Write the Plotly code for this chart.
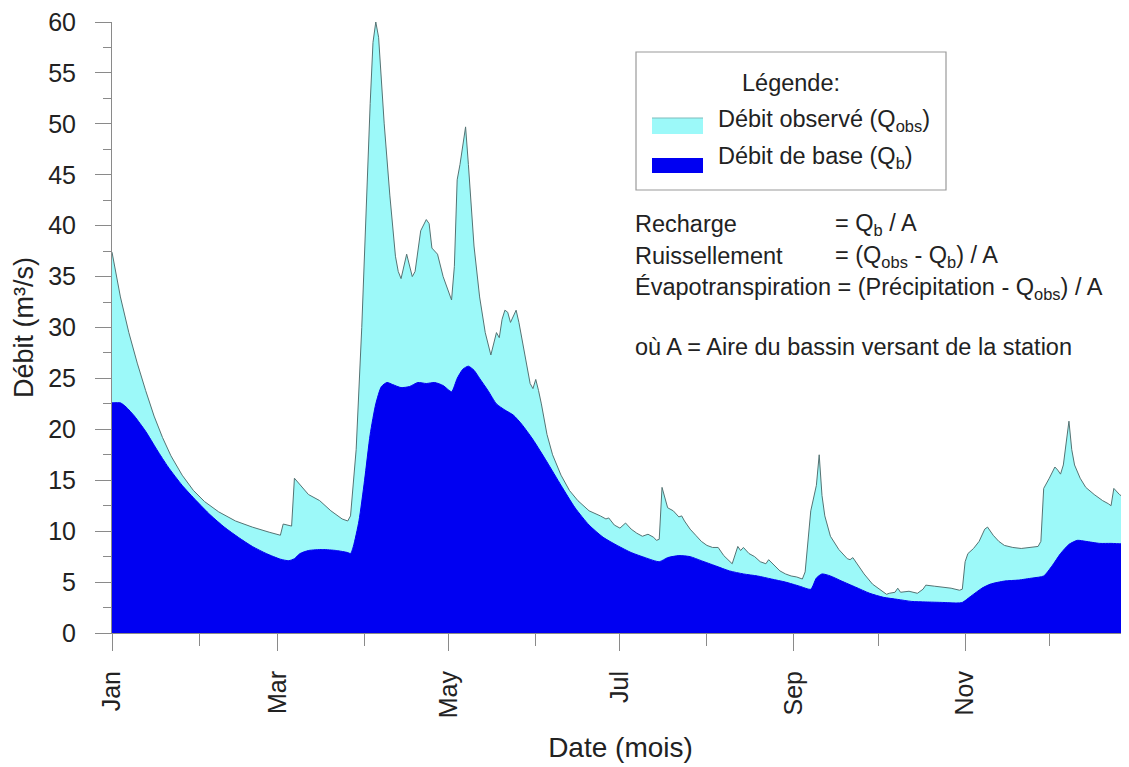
import plotly.graph_objects as go
import pandas as pd

# ---------------- data (day of year, flow m3/s) ----------------
year_start = "2001-01-01"

obs_days = [0, 3, 6, 9, 12, 15, 18, 21, 25, 29, 33, 38, 44, 50, 56, 60,
            61, 63, 64, 65, 67, 70, 74, 78, 82, 84, 85, 87, 89, 91, 92, 93, 94,
            95, 97, 99, 101, 102, 103, 105, 106, 107, 108, 110, 112, 113, 114,
            116, 118, 120, 121, 122, 123, 124, 125, 126, 127, 128, 129, 131,
            133, 135, 137, 138, 139, 140, 141, 142, 143, 144, 145, 147, 149,
            150, 151, 152, 153, 155, 157, 160, 163, 166, 170, 174, 176, 177,
            179, 181, 183, 185, 187, 189, 191, 193, 194, 195, 196, 198, 200,
            202, 203, 204, 206, 208, 210, 212, 214, 216, 218, 221, 223, 224,
            225, 227, 229, 231, 233, 234, 236, 238, 240, 242, 244, 246, 247,
            248, 249, 251, 252, 253, 254, 256, 259, 262, 263, 264, 266, 268,
            271, 274, 276, 277, 279, 280, 281, 284, 287, 289, 290, 293, 296,
            299, 302, 303, 304, 305, 307, 309, 311, 312, 314, 316, 318, 321,
            324, 327, 330, 331, 332, 334, 336, 337, 338, 339, 340, 341, 342,
            343, 345, 347, 350, 353, 355, 356, 357, 359, 361, 364]
obs_flow = [37.4, 33.0, 29.5, 26.5, 23.8, 21.3, 19.2, 17.4, 15.5, 14.0, 12.9, 11.9, 11.0, 10.4, 9.9, 9.6,
            10.7, 10.6, 10.5, 15.2, 14.6, 13.6, 13.0, 12.0, 11.2, 11.0, 11.5, 18.0, 30.0, 45.0, 52.0, 58.0, 60.0,
            58.5, 50.0, 43.0, 37.0, 35.5, 34.8, 37.2, 36.0, 35.0, 35.5, 39.5, 40.6, 40.2, 37.8,
            37.2, 35.0, 33.5, 32.7, 36.0, 44.5, 46.0, 48.0, 49.7, 46.0, 42.0, 38.0, 33.0,
            29.5, 27.3, 29.5, 29.0, 30.8, 31.7, 31.5, 30.5, 31.2, 31.7, 30.5, 27.5, 24.5,
            24.0, 24.9, 23.8, 22.5, 19.5, 17.5, 15.5, 14.0, 13.0, 12.0, 11.5, 11.2, 11.3,
            10.6, 10.3, 10.8, 10.2, 9.8, 9.5, 9.7, 9.4, 9.1, 9.2, 14.3, 12.3, 12.0,
            11.4, 11.5, 11.0, 10.2, 9.6, 9.0, 8.6, 8.4, 8.4, 7.6, 6.8, 8.5, 8.1,
            8.4, 7.8, 7.5, 7.0, 6.8, 7.2, 6.6, 6.1, 5.8, 5.6, 5.5, 5.3, 6.0,
            9.0, 12.0, 14.5, 17.5, 13.5, 11.5, 9.5, 8.2, 7.3, 7.2, 7.4, 6.6, 5.8,
            4.8, 4.2, 3.8, 3.9, 4.0, 4.4, 4.0, 4.1, 3.9, 4.3, 4.7, 4.6, 4.5,
            4.4, 4.2, 4.3, 7.0, 7.8, 8.3, 9.0, 10.2, 10.4, 9.6, 9.0, 8.6, 8.4,
            8.3, 8.4, 8.5, 9.0, 14.2, 15.2, 16.3, 16.0, 15.6, 16.5, 18.5, 20.8, 18.0,
            16.5, 15.2, 14.3, 13.6, 13.0, 12.7, 12.5, 14.2, 13.6, 13.2, 12.7]

base_days = [0, 3, 5, 8, 12, 16, 20, 25, 30, 35, 40, 45, 50, 55, 60, 63, 65, 67,
             70, 75, 80, 84, 85, 86, 88, 90, 92, 94, 96, 98, 100, 103, 106, 109,
             112, 115, 118, 121, 123, 125, 127, 129, 131, 134, 137, 140, 143, 146,
             150, 155, 160, 165, 170, 175, 180, 185, 190, 195, 198, 202, 206, 210,
             215, 220, 225, 230, 235, 240, 245, 249, 251, 253, 256, 260, 265, 270,
             275, 280, 285, 290, 296, 301, 303, 306, 310, 313, 318, 323, 328, 332,
             335, 338, 341, 344, 347, 352, 356, 360, 364]
base_flow = [22.6, 22.6, 22.2, 21.3, 19.8, 18.0, 16.3, 14.5, 13.0, 11.6, 10.4, 9.4, 8.5, 7.8, 7.25, 7.1, 7.3, 7.8,
             8.1, 8.2, 8.1, 7.9, 7.8, 8.5, 11.0, 15.0, 19.5, 22.5, 24.2, 24.6, 24.4, 24.1, 24.2, 24.6,
             24.5, 24.6, 24.3, 23.7, 25.0, 25.9, 26.2, 25.8, 25.0, 23.8, 22.5, 21.9, 21.4, 20.5,
             19.0, 16.8, 14.5, 12.3, 10.6, 9.4, 8.6, 7.9, 7.4, 7.0, 7.4, 7.6, 7.5, 7.1,
             6.6, 6.1, 5.8, 5.6, 5.3, 5.0, 4.6, 4.3, 5.4, 5.8, 5.6, 5.1, 4.5, 3.9,
             3.5, 3.3, 3.1, 3.05, 3.0, 2.95, 3.0, 3.6, 4.4, 4.8, 5.1, 5.2, 5.4, 5.6,
             6.6, 7.8, 8.7, 9.1, 9.0, 8.8, 8.8, 8.75, 8.7]

y_tick_values = [0, 5, 10, 15, 20, 25, 30, 35, 40, 45, 50, 55, 60]
month_ticks_format = "%b"

# ---------------- build ----------------
t0 = pd.Timestamp(year_start)
obs_x = [t0 + pd.Timedelta(days=d) for d in obs_days]
base_x = [t0 + pd.Timedelta(days=d) for d in base_days]

OBS_FILL = "#9CF9F9"
BASE_FILL = "#0000F2"
TXT = "#222222"
FONT = "Arial, Liberation Sans, sans-serif"
AXC = "#8a8a8a"

fig = go.Figure()
fig.add_trace(go.Scatter(x=obs_x, y=obs_flow, mode="lines", fill="tozeroy",
                         fillcolor=OBS_FILL, line=dict(color="#557373", width=1),
                         name="Débit observé", showlegend=False))
fig.add_trace(go.Scatter(x=base_x, y=base_flow, mode="lines", fill="tozeroy",
                         fillcolor=BASE_FILL, line=dict(color=BASE_FILL, width=1, shape="spline", smoothing=0.6),
                         name="Débit de base", showlegend=False))

# page body has an 8px margin: the figure is placed at (8, 8) in the window
OFF = 8
W, H = 1121, 759
PL, PR, PT, PB = 112, 1129, 22, 633  # plot area in window pixels
L, T = PL - OFF, PT - OFF
R = W - (PR - OFF)
B = H - (PB - OFF)


def PX(x):
    return (x - PL) / (PR - PL)


def PY(y):
    return (PB - y) / (PB - PT)


fs = 23.5
shapes = [
    dict(type="rect", xref="paper", yref="paper", x0=PX(636), x1=PX(946), y0=PY(190), y1=PY(52),
         line=dict(color="#9a9a9a", width=1.2), fillcolor="white"),
    dict(type="rect", xref="paper", yref="paper", x0=PX(652), x1=PX(703), y0=PY(134), y1=PY(118),
         line=dict(width=0), fillcolor=OBS_FILL),
    dict(type="line", xref="paper", yref="paper", x0=PX(652), x1=PX(703), y0=PY(118), y1=PY(118),
         line=dict(color="#7fbcbc", width=1)),
    dict(type="rect", xref="paper", yref="paper", x0=PX(652), x1=PX(703), y0=PY(173), y1=PY(158),
         line=dict(width=0), fillcolor=BASE_FILL),
]


def ann(x, y, text, anchor="left"):
    return dict(xref="paper", yref="paper", x=PX(x), y=PY(y), text=text, showarrow=False,
                xanchor=anchor, yanchor="middle", font=dict(family=FONT, size=fs, color=TXT))


annotations = [
    ann(740, 83, "Légende:"),
    ann(716, 120, "Débit observé (Q<sub>obs</sub>)"),
    ann(716, 157, "Débit de base (Q<sub>b</sub>)"),
    ann(633, 224, "Recharge"),
    ann(833, 224, "= Q<sub>b</sub> / A"),
    ann(633, 256, "Ruissellement"),
    ann(833, 256, "= (Q<sub>obs</sub> - Q<sub>b</sub>) / A"),
    ann(633, 289, "Évapotranspiration = (Précipitation - Q<sub>obs</sub>) / A"),
    ann(633, 347, "où A = Aire du bassin versant de la station"),
]

fig.update_layout(
    width=W, height=H,
    margin=dict(l=L, r=R, t=T, b=B, pad=0),
    paper_bgcolor="white", plot_bgcolor="white",
    font=dict(family=FONT, color=TXT),
    shapes=shapes, annotations=annotations,
    showlegend=False,
)
fig.update_xaxes(
    type="date", range=[t0, t0 + pd.Timedelta(days=362.4)],
    tick0=year_start, dtick="M2", tickformat=month_ticks_format, tickangle=-90,
    ticks="outside", ticklen=17, tickcolor=AXC, tickwidth=1, ticklabelstandoff=10,
    minor=dict(dtick="M1", ticks="outside", ticklen=12, tickcolor=AXC, tickwidth=1),
    showline=True, linecolor=AXC, linewidth=1, showgrid=False, zeroline=False,
    tickfont=dict(family=FONT, size=25, color=TXT),
    title=dict(text="Date (mois)", font=dict(family=FONT, size=28, color=TXT), standoff=20),
)
fig.update_yaxes(
    range=[0, 60], tickmode="array", tickvals=y_tick_values,
    ticktext=[str(v) for v in y_tick_values], ticklabeloverflow="allow",
    ticks="outside", ticklen=16, tickcolor=AXC, tickwidth=1, ticklabelstandoff=14,
    minor=dict(dtick=2.5, tick0=0, ticks="outside", ticklen=8, tickcolor=AXC, tickwidth=1),
    showline=True, linecolor=AXC, linewidth=1, showgrid=False, zeroline=False,
    tickfont=dict(family=FONT, size=25, color=TXT),
    title=dict(text="Débit (m³/s)", font=dict(family=FONT, size=27, color=TXT), standoff=6),
)

fig.write_html("out.html")
